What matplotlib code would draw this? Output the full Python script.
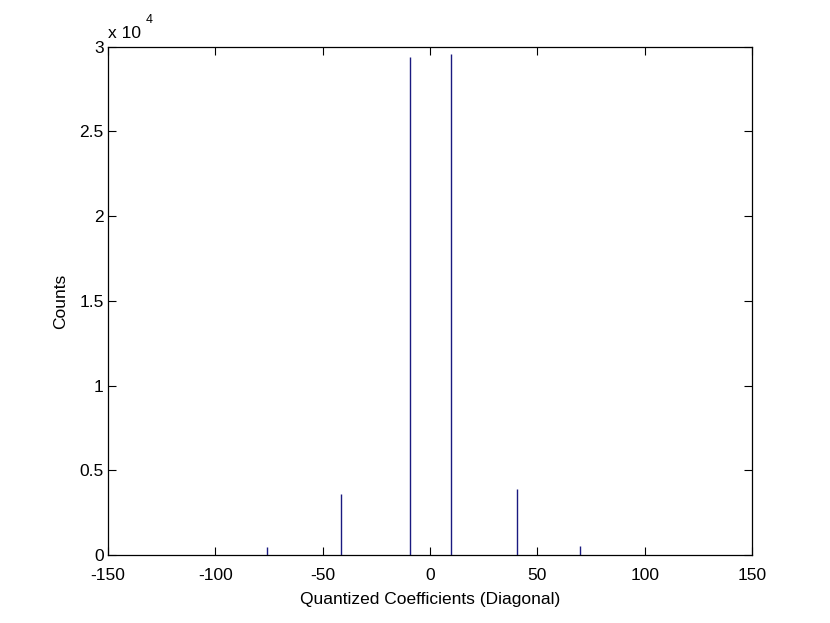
import matplotlib
matplotlib.use("Agg")
import matplotlib.pyplot as plt
from matplotlib.ticker import FuncFormatter

# coefficienti quantizzati (diagonale) e relativi conteggi
coeffs = [-76, -41.5, -9.5, 9.8, 40.5, 70]
counts = [470, 3600, 29400, 29600, 3900, 530]

plt.rcParams['font.family'] = ['Liberation Sans', 'DejaVu Sans']
plt.rcParams['font.size'] = 12.5
plt.rcParams['axes.unicode_minus'] = False

fig = plt.figure(figsize=(8.3, 6.23), dpi=100)
ax = fig.add_axes([0.130, 0.109, 0.776, 0.816])

ax.vlines(coeffs, 0, counts, color='#1a1a80', linewidth=1.0)

ax.set_xlim(-150, 150)
ax.set_ylim(0, 30000)
ax.set_xticks(range(-150, 151, 50))
ax.set_yticks([i * 5000 for i in range(7)])
ax.yaxis.set_major_formatter(FuncFormatter(lambda v, p: ('%g' % (v / 1e4))))
ax.tick_params(direction='in', top=True, right=True, length=6, labelsize=12.5)
ax.tick_params(axis='x', pad=9)
ax.tick_params(axis='y', pad=3)
for s in ax.spines.values():
    s.set_linewidth(0.9)

ax.text(0.0, 1.012, 'x 10', transform=ax.transAxes, fontsize=12.5, ha='left', va='bottom')
ax.text(0.058, 1.04, '4', transform=ax.transAxes, fontsize=9, ha='left', va='bottom')

ax.set_xlabel('Quantized Coefficients (Diagonal)', fontsize=12.5, labelpad=7)
ax.set_ylabel('Counts', fontsize=12.5, labelpad=8)

fig.savefig('out.png', dpi=100)
